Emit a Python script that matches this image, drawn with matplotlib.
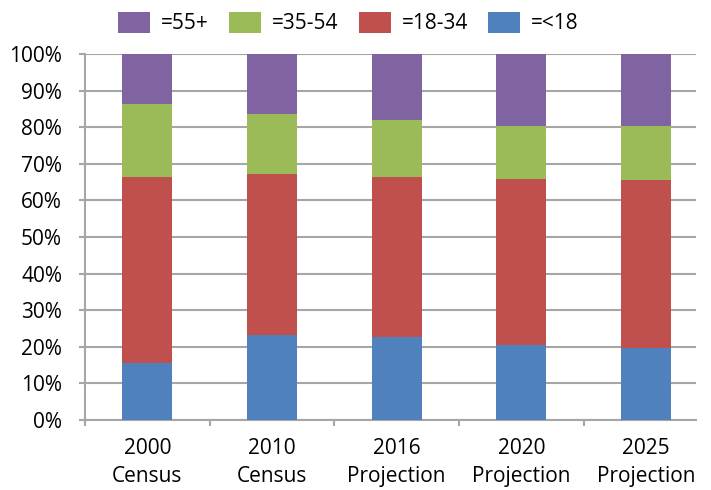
import matplotlib
matplotlib.use("Agg")
import matplotlib.pyplot as plt
from matplotlib.patches import Patch
import numpy as np

categories = ["2000\nCensus", "2010\nCensus", "2016\nProjection", "2020\nProjection", "2025\nProjection"]
under_18 = [15.6, 23.3, 22.7, 20.4, 19.7]
age_18_34 = [50.8, 43.8, 43.8, 45.4, 46.0]
age_35_54 = [19.9, 16.6, 15.5, 14.5, 14.6]
age_55_plus = [13.7, 16.3, 18.0, 19.7, 19.7]

series = [
    ("=<18", under_18, "#4F81BD"),
    ("=18-34", age_18_34, "#C0504D"),
    ("=35-54", age_35_54, "#9BBB59"),
    ("=55+", age_55_plus, "#8064A2"),
]

plt.rcParams["font.family"] = ["Open Sans", "DejaVu Sans"]

W, H = 711, 490
fig = plt.figure(figsize=(W / 100, H / 100), dpi=100)
ax = fig.add_axes([85 / W, 1 - 420 / H, 611 / W, 366 / H])

x = np.arange(len(categories))
bottom = np.zeros(len(categories))
for label, vals, color in series:
    ax.bar(x, vals, width=0.40, bottom=bottom, color=color, zorder=3, label=label)
    bottom += np.array(vals)

ax.set_xlim(-0.5, 4.40)
ax.set_ylim(0, 100)
ax.set_yticks(np.arange(0, 101, 10))
ax.set_yticklabels([f"{v}%" for v in range(0, 101, 10)], fontsize=15)
ax.yaxis.grid(True, color="#a6a6a6", linewidth=1.5, zorder=0)
ax.set_xticks(x)
ax.set_xticklabels(categories, fontsize=15, linespacing=1.42)
ax.set_xticks(np.arange(-0.5, 4.0, 1), minor=True)
ax.tick_params(axis="x", which="major", length=0, pad=13)
ax.tick_params(axis="x", which="minor", length=4.5, color="#a6a6a6", width=1.5)
ax.tick_params(axis="y", length=4.5, color="#a6a6a6", width=1.5, pad=12)

for side in ["top", "right"]:
    ax.spines[side].set_visible(False)
for side in ["left", "bottom"]:
    ax.spines[side].set_color("#a6a6a6")
    ax.spines[side].set_linewidth(1.5)

handles = [Patch(facecolor=c, label=l) for l, _, c in reversed(series)]
fig.legend(handles=handles, loc="center", bbox_to_anchor=(348.5 / W, 1 - 23 / H),
           ncol=4, frameon=False, fontsize=15, handlelength=1.54, handleheight=1.2,
           handletextpad=0.53, columnspacing=0.96)

fig.savefig("out.png", dpi=100)
